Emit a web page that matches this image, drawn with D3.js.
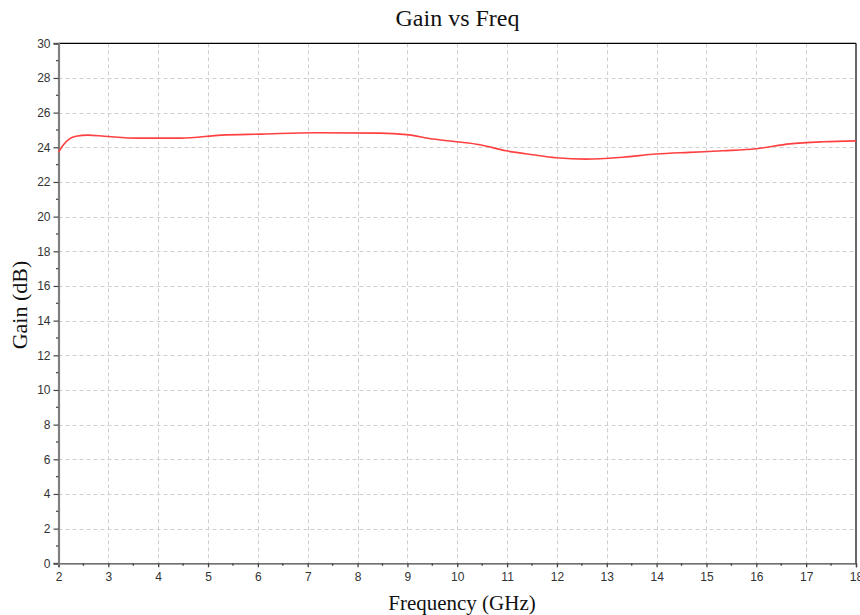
<!DOCTYPE html>
<html><head><meta charset="utf-8">
<script src="https://cdn.jsdelivr.net/npm/d3@7"></script>
<style>body{margin:0;background:#fff}svg{display:block}</style>
</head><body>
<svg id="c" width="860" height="615"></svg>
<script>
const freq = [2.0, 2.1, 2.22, 2.35, 2.59, 2.92, 3.59, 4.46, 5.27, 6.07, 7.14, 8.44, 8.98, 9.51, 9.98, 10.45, 10.98, 11.52, 11.98, 12.59, 13.32, 13.99, 14.66, 15.33, 16.0, 16.67, 17.34, 18.0];
const gain = [23.72, 24.15, 24.49, 24.64, 24.70, 24.64, 24.53, 24.53, 24.70, 24.76, 24.84, 24.82, 24.73, 24.48, 24.32, 24.15, 23.80, 23.57, 23.40, 23.32, 23.43, 23.61, 23.71, 23.80, 23.92, 24.20, 24.32, 24.37];
const xTicks = [2,3,4,5,6,7,8,9,10,11,12,13,14,15,16,17,18];
const yTicks = [0,2,4,6,8,10,12,14,16,18,20,22,24,26,28,30];
const title = "Gain vs Freq";
const xLabel = "Frequency (GHz)";
const yLabel = "Gain (dB)";

const svg = d3.select("#c");
const L = 58.5, R = 856, T = 43.3, B = 563.3;
const x = d3.scaleLinear().domain([2,18]).range([L,R]);
const y = d3.scaleLinear().domain([0,30]).range([B,T]);

// grid
const g = svg.append("g");
g.selectAll(".gx").data(xTicks.slice(1,-1)).join("line")
  .attr("x1",d=>Math.round(x(d))+0.5).attr("x2",d=>Math.round(x(d))+0.5)
  .attr("y1",T).attr("y2",B)
  .attr("stroke","#cfcfcf").attr("stroke-dasharray","4,3");
g.selectAll(".gy").data(yTicks.slice(1,-1)).join("line")
  .attr("y1",d=>Math.round(y(d))+0.5).attr("y2",d=>Math.round(y(d))+0.5)
  .attr("x1",L).attr("x2",R)
  .attr("stroke","#cfcfcf").attr("stroke-dasharray","4,3");

// frame top/right
svg.append("line").attr("x1",L).attr("x2",R).attr("y1",T).attr("y2",T).attr("stroke","#000").attr("stroke-width",1.2);
svg.append("line").attr("x1",R).attr("x2",R).attr("y1",T).attr("y2",B).attr("stroke","#000").attr("stroke-width",1.2);

// axes
const xAxis = d3.axisBottom(x).tickValues(xTicks).tickSize(4).tickPadding(5).tickFormat(d3.format("d"));
const xa = svg.append("g").attr("transform",`translate(0,${B})`).call(xAxis);
xa.select(".domain").attr("stroke","#444").attr("stroke-width",1.3);
xa.selectAll(".tick line").attr("stroke","#444").attr("stroke-width",1.3);
xa.selectAll("text").attr("font-family","Liberation Sans, Arial, sans-serif").attr("font-size",12).attr("fill","#333");
const xMinor = d3.range(2.5,18,1);
svg.append("g").selectAll("line").data(xMinor).join("line")
  .attr("x1",d=>x(d)).attr("x2",d=>x(d)).attr("y1",B).attr("y2",B+2.5).attr("stroke","#444").attr("stroke-width",1.3);

const yAxis = d3.axisLeft(y).tickValues(yTicks).tickSize(5).tickPadding(3).tickFormat(d3.format("d"));
const ya = svg.append("g").attr("transform",`translate(${L},0)`).call(yAxis);
ya.select(".domain").attr("stroke","#808080").attr("stroke-width",2.2);
ya.selectAll(".tick line").attr("stroke","#444").attr("stroke-width",1.2);
ya.selectAll("text").attr("font-family","Liberation Sans, Arial, sans-serif").attr("font-size",12).attr("fill","#333");
const yMinor = d3.range(1,30,2);
svg.append("g").selectAll("line").data(yMinor).join("line")
  .attr("x1",L-2.5).attr("x2",L).attr("y1",d=>y(d)).attr("y2",d=>y(d)).attr("stroke","#444").attr("stroke-width",1.2);

// curve
const line = d3.line().x((d,i)=>x(freq[i])).y(d=>y(d)).curve(d3.curveMonotoneX);
svg.append("path").datum(gain).attr("d",line).attr("fill","none").attr("stroke","#ff4040").attr("stroke-width",1.6);

// labels
const serif = "Liberation Serif, Times New Roman, serif";
svg.append("text").attr("x",457.5).attr("y",26).attr("text-anchor","middle").attr("font-family",serif).attr("font-size",24).attr("fill","#111").text(title);
svg.append("text").attr("x",462).attr("y",610).attr("text-anchor","middle").attr("font-family",serif).attr("font-size",21).attr("fill","#111").text(xLabel);
svg.append("text").attr("transform","translate(27,305) rotate(-90)").attr("text-anchor","middle").attr("font-family",serif).attr("font-size",22).attr("fill","#111").text(yLabel);
</script>
</body></html>
